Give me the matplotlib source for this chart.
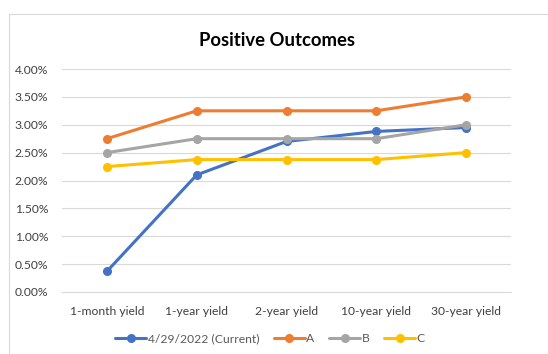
import matplotlib.pyplot as plt
from matplotlib.patches import Rectangle
from matplotlib.ticker import FuncFormatter

categories = ['1-month yield', '1-year yield', '2-year yield', '10-year yield', '30-year yield']
current = [0.37, 2.10, 2.70, 2.88, 2.95]
a_vals = [2.75, 3.25, 3.25, 3.25, 3.50]
b_vals = [2.50, 2.75, 2.75, 2.75, 3.00]
c_vals = [2.25, 2.375, 2.375, 2.375, 2.50]
y_ticks = [0, 0.5, 1.0, 1.5, 2.0, 2.5, 3.0, 3.5, 4.0]

plt.rcParams['font.family'] = ['Lato', 'DejaVu Sans']

W, H = 548, 354
fig = plt.figure(figsize=(W / 100, H / 100), dpi=100)

# chart area border (cropped on right/bottom)
fig.patches.append(Rectangle((9 / W, -0.1), 1.2, 1 - 14 / H + 0.1, transform=fig.transFigure,
                             fill=False, edgecolor='#d9d9d9', linewidth=0.8))

ax = fig.add_axes([62 / W, 1 - 292 / H, 449 / W, (292 - 69) / H])

series = [
    ('4/29/2022 (Current)', current, '#4472C4'),
    ('A', a_vals, '#ED7D31'),
    ('B', b_vals, '#A5A5A5'),
    ('C', c_vals, '#FFC000'),
]
x = list(range(len(categories)))
for label, vals, col in series:
    ax.plot(x, vals, color=col, linewidth=2.2, marker='o', markersize=5.5, label=label,
            solid_capstyle='round')

ax.set_xlim(-0.5, len(categories) - 0.5)
ax.set_ylim(0, 4.0)
ax.set_yticks(y_ticks)
ax.yaxis.set_major_formatter(FuncFormatter(lambda v, p: f'{v:.2f}%'))
ax.set_xticks(x)
ax.set_xticklabels(categories)
ax.grid(axis='y', color='#d9d9d9', linewidth=0.8)
ax.set_axisbelow(True)
for s in ['top', 'right', 'left']:
    ax.spines[s].set_visible(False)
ax.spines['bottom'].set_color('#d9d9d9')
ax.spines['bottom'].set_linewidth(0.8)
ax.tick_params(axis='both', length=0, labelsize=8.7, colors='#404040')
ax.tick_params(axis='x', pad=10)
ax.tick_params(axis='y', pad=10)

fig.text(277 / W, 1 - 40 / H, 'Positive Outcomes', ha='center', va='center',
         fontsize=13.3, fontweight='bold', color='black')

fig.legend(loc='center', bbox_to_anchor=(270 / W, 1 - 339 / H), ncol=4, frameon=False,
           fontsize=8.7, labelcolor='#595959', handlelength=2.6, handletextpad=0.1,
           columnspacing=1.2)

fig.savefig('out.png', dpi=100, facecolor='white')
